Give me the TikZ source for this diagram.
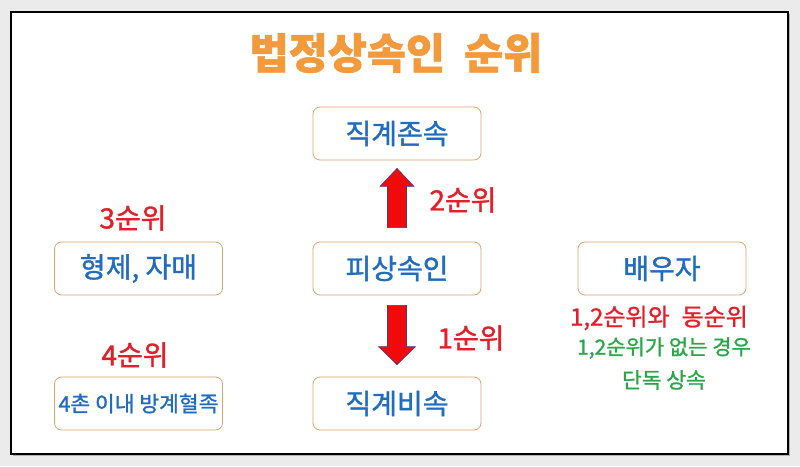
\documentclass[tikz,border=0pt]{standalone}
\usepackage{fontspec}
\usepackage{xcolor}
\usetikzlibrary{calc}
\newfontfamily\kr[FakeBold=1.2]{Noto Sans CJK KR}

\definecolor{pagegray}{HTML}{EBEBEB}
\definecolor{titleorange}{HTML}{F29A3C}
\definecolor{boxline}{HTML}{DDA468}
\definecolor{boxblue}{HTML}{1F6CC0}
\definecolor{rankred}{HTML}{E3202A}
\definecolor{notegreen}{HTML}{2AA748}
\definecolor{arrowred}{HTML}{F00A0A}
\definecolor{arrowline}{HTML}{4A3A8C}

\tikzset{
    rankbox/.style={draw=boxline, line width=0.8pt, rounded corners=7pt, fill=white,
        minimum width=168pt, minimum height=53pt, inner sep=0pt,
        text=boxblue, font=\kr\fontsize{28}{30}\selectfont},
    ranklabel/.style={text=rankred, inner sep=0pt, font=\kr\fontsize{28}{30}\selectfont},
    fatarrow/.style={fill=arrowred, draw=arrowline, line width=0.6pt, line join=miter}
}

\begin{document}
\begin{tikzpicture}[x=1pt, y=-1pt]
    % Page and frame
    \fill[pagegray] (0,0) rectangle (800,466);
    \fill[gray!60] (13,14) rectangle (790,456);
    \filldraw[fill=white, draw=black, line width=2pt] (11,12) rectangle (788,454);
    \useasboundingbox (0,0) rectangle (800,466);

    % Title
    \node[text=titleorange, inner sep=0pt, font=\kr\bfseries\fontsize{42.5}{46}\selectfont] (title) at (396,53) {법정상속인\hspace{0.45em}순위};

    % Boxes
    \node[rankbox] (jonsok) at (397,133.5) {직계존속};
    \node[rankbox] (sibling) at (138.5,268.5) {형제, 자매};
    \node[rankbox] (pisang) at (397,268.5) {피상속인};
    \node[rankbox] (spouse) at (662,268.5) {배우자};
    \node[rankbox, font=\kr\fontsize{21.5}{24}\selectfont] (collateral) at (138.5,403.5) {4촌 이내 방계혈족};
    \node[rankbox] (bisok) at (397,403.5) {직계비속};

    % Rank labels
    \node[ranklabel] (rank2) at (463,200) {2순위};
    \node[ranklabel] (rank3) at (133,218) {3순위};
    \node[ranklabel] (rank1) at (471,338) {1순위};
    \node[ranklabel] (rank4) at (135,355) {4순위};

    % Spouse notes
    \node[ranklabel, font=\kr\fontsize{24}{26}\selectfont] (spouseRank) at (659,318) {1,2순위와\hspace{0.5em}동순위};
    \node[text=notegreen, inner sep=0pt, font=\kr\fontsize{21}{24}\selectfont] (spouseNote) at (664,348) {1,2순위가 없는 경우};
    \node[text=notegreen, inner sep=0pt, font=\kr\fontsize{21.5}{24}\selectfont] (spouseAlone) at (664,380) {단독 상속};

    % Arrow up: 2nd rank
    \coordinate (upTail) at ($(pisang.north)+(0,-14)$);
    \coordinate (upTip) at ($(jonsok.south)+(0,8)$);
    \filldraw[fatarrow] let \p1=(upTail), \p2=(upTip) in
        ({\x1-9.5pt},\y1) -- ({\x1-9.5pt},{\y2-18pt}) -- ({\x1-17pt},{\y2-18pt}) -- (\x2,\y2)
        -- ({\x1+17pt},{\y2-18pt}) -- ({\x1+9.5pt},{\y2-18pt}) -- ({\x1+9.5pt},\y1) -- cycle;

    % Arrow down: 1st rank
    \coordinate (downTail) at ($(pisang.south)+(0,10)$);
    \coordinate (downTip) at ($(bisok.north)+(0,-12)$);
    \filldraw[fatarrow] let \p1=(downTail), \p2=(downTip) in
        ({\x1-9.5pt},\y1) -- ({\x1-9.5pt},{\y2+18pt}) -- ({\x1-18.5pt},{\y2+18pt}) -- (\x2,\y2)
        -- ({\x1+18.5pt},{\y2+18pt}) -- ({\x1+9.5pt},{\y2+18pt}) -- ({\x1+9.5pt},\y1) -- cycle;
\end{tikzpicture}
\end{document}
